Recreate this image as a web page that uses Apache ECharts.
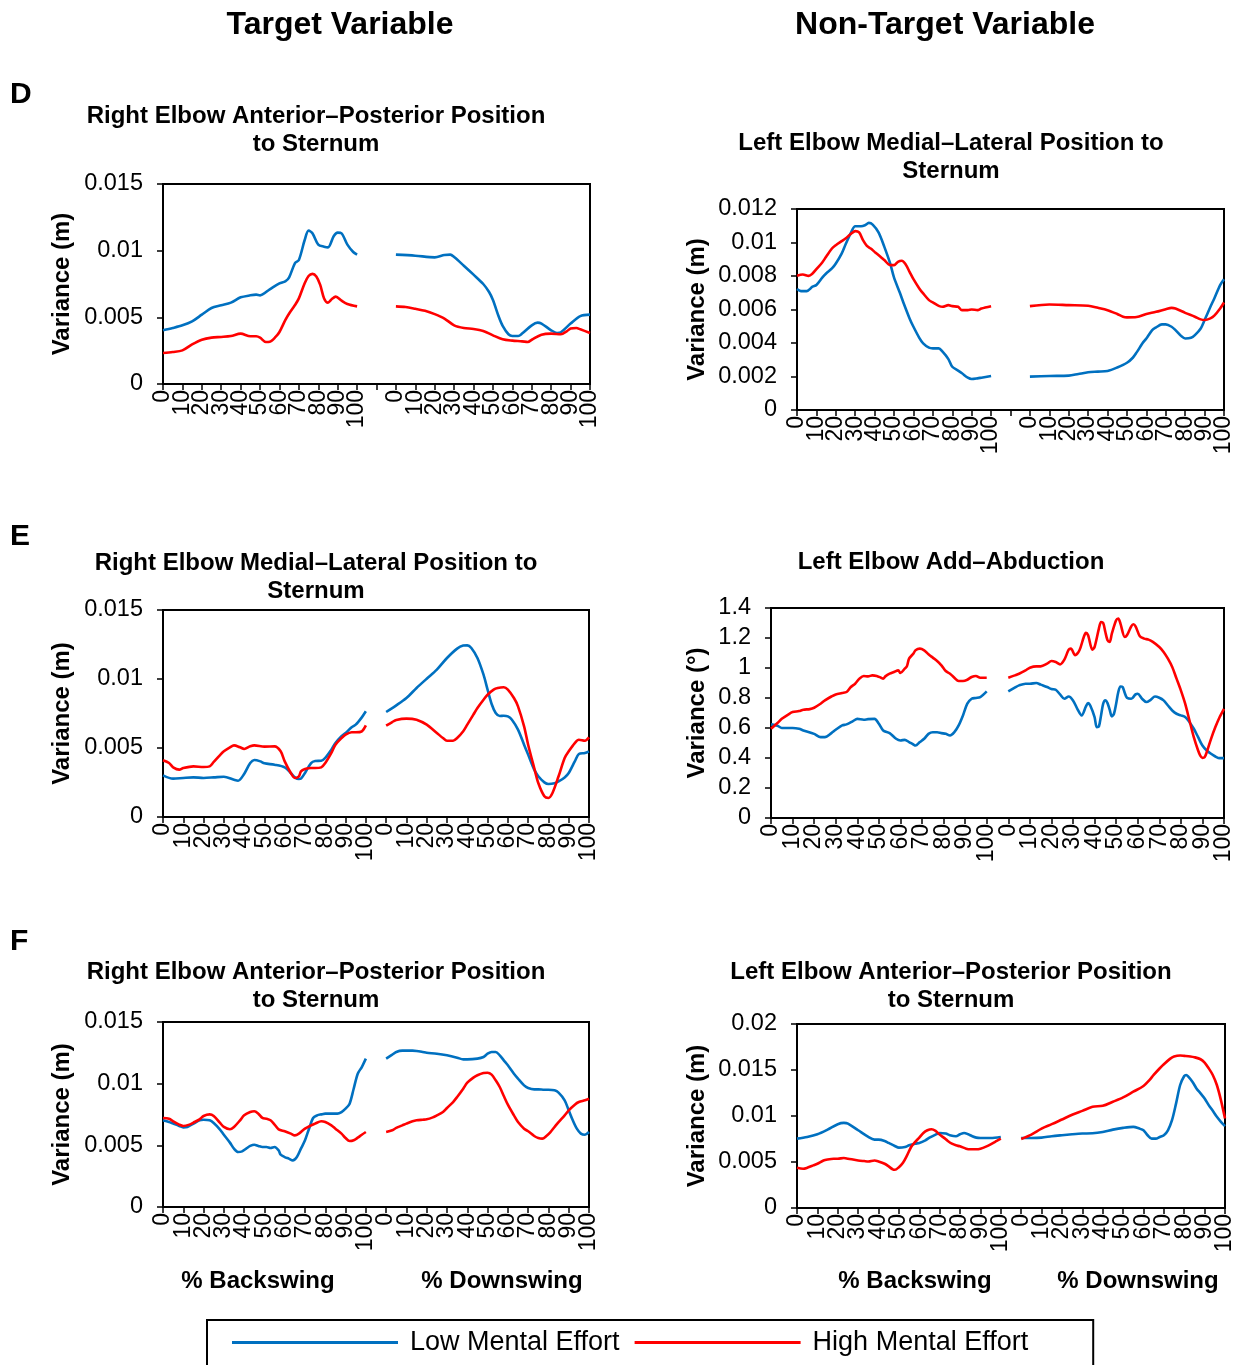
<!DOCTYPE html>
<html><head><meta charset="utf-8">
<script src="https://cdn.jsdelivr.net/npm/echarts@6/dist/echarts.min.js"></script>
<style>html,body{margin:0;padding:0;background:#fff}#c{width:1241px;height:1365px}</style>
</head><body><div id="c"></div>
<script>
// ---------- DATA: [% of phase, variance] ----------
// Panel D, target: Right Elbow Anterior–Posterior Position to Sternum
const D_T_low_back = [[0,0.00403],[5,0.0042],[10,0.0044],[15,0.0047],[20,0.0052],[25,0.0057],[30,0.0059],[35,0.0061],[40,0.0065],[45,0.00665],[48,0.0067],[50,0.00665],[55,0.0071],[60,0.00755],[63,0.0077],[65,0.008],[68,0.00907],[70,0.0093],[73,0.0108],[75,0.0115],[77,0.0113],[80,0.01045],[83,0.0103],[85,0.01025],[88,0.0111],[90,0.01135],[92,0.0113],[95,0.01045],[98,0.0099],[100,0.0097]];
const D_T_low_down = [[0,0.0097],[10,0.00962],[20,0.0095],[25,0.00967],[28,0.0097],[30,0.00952],[35,0.00887],[40,0.0082],[45,0.0075],[48,0.0069],[50,0.0063],[53,0.00504],[55,0.00436],[58,0.00373],[60,0.0036],[63,0.0036],[65,0.00378],[70,0.0044],[73,0.0046],[75,0.00453],[80,0.00403],[83,0.00383],[85,0.00388],[90,0.00453],[95,0.00509],[100,0.0052]];
const D_T_high_back = [[0,0.00232],[5,0.0024],[10,0.00252],[15,0.00297],[20,0.00332],[25,0.00348],[30,0.00353],[35,0.0036],[40,0.00378],[45,0.00358],[48,0.00358],[50,0.00348],[53,0.00315],[55,0.00317],[58,0.00353],[60,0.0039],[63,0.00479],[65,0.00529],[68,0.00592],[70,0.00642],[73,0.00756],[75,0.0081],[77,0.00826],[79,0.00806],[81,0.00743],[83,0.00642],[85,0.0061],[87,0.00637],[89,0.00655],[92,0.00625],[95,0.006],[100,0.00582]];
const D_T_high_down = [[0,0.00582],[5,0.00577],[10,0.00564],[15,0.00549],[20,0.00524],[25,0.00491],[30,0.0044],[35,0.0042],[40,0.00413],[45,0.00398],[50,0.00365],[55,0.00335],[60,0.00325],[65,0.0032],[68,0.00315],[70,0.00332],[75,0.0037],[80,0.00378],[85,0.00373],[88,0.00395],[90,0.00416],[93,0.0042],[95,0.0041],[100,0.00383]];
// Panel D, non-target: Left Elbow Medial–Lateral Position to Sternum
const D_N_low_back = [[0,0.00722],[2,0.0071],[5,0.0071],[8,0.00736],[10,0.00746],[13,0.0079],[15,0.00815],[18,0.00845],[20,0.00875],[23,0.00934],[25,0.00988],[28,0.01064],[30,0.01097],[33,0.01097],[35,0.01103],[37,0.01117],[39,0.01107],[42,0.0106],[45,0.00974],[48,0.00875],[50,0.0079],[53,0.007],[55,0.00636],[58,0.00547],[60,0.00497],[63,0.00431],[65,0.00398],[68,0.00372],[70,0.00368],[73,0.00368],[75,0.00348],[78,0.00304],[80,0.00258],[83,0.00235],[85,0.00219],[88,0.00193],[90,0.00185],[93,0.00189],[95,0.00193],[100,0.00203]];
const D_N_low_down = [[0,0.00199],[10,0.00203],[20,0.00205],[25,0.00215],[30,0.00225],[35,0.00229],[40,0.00233],[45,0.00254],[50,0.00282],[53,0.00312],[55,0.00344],[58,0.00398],[60,0.00427],[63,0.00477],[65,0.00493],[68,0.00511],[70,0.00511],[73,0.00497],[75,0.00477],[78,0.00441],[80,0.00427],[83,0.00431],[85,0.00447],[88,0.00487],[90,0.00537],[93,0.00616],[95,0.00666],[98,0.00746],[100,0.00781]];
const D_N_high_back = [[0,0.00801],[3,0.00809],[6,0.00801],[8,0.00815],[10,0.00841],[13,0.00881],[15,0.00915],[18,0.00964],[20,0.00984],[23,0.01008],[25,0.01024],[28,0.01054],[30,0.01068],[32,0.0106],[34,0.01014],[36,0.0098],[38,0.00964],[40,0.00944],[43,0.00915],[45,0.00895],[48,0.00865],[50,0.00865],[52,0.00885],[54,0.00891],[56,0.00869],[58,0.00825],[60,0.00781],[63,0.00726],[65,0.00696],[68,0.00656],[70,0.00642],[73,0.00622],[75,0.00616],[78,0.00626],[80,0.0062],[83,0.00616],[85,0.00596],[88,0.00596],[90,0.006],[93,0.00596],[95,0.00606],[100,0.0062]];
const D_N_high_down = [[0,0.0062],[10,0.0063],[20,0.00626],[30,0.00622],[35,0.0061],[40,0.00596],[45,0.00573],[48,0.00557],[50,0.00553],[55,0.00555],[60,0.00573],[65,0.00586],[70,0.00602],[73,0.0061],[75,0.00606],[80,0.0058],[85,0.00557],[88,0.00541],[90,0.00537],[93,0.00547],[95,0.00563],[98,0.00606],[100,0.00642]];
// Panel E, target: Right Elbow Medial–Lateral Position to Sternum
const E_T_low_back = [[0,0.00302],[5,0.00278],[10,0.00283],[15,0.00287],[20,0.00283],[25,0.00287],[30,0.00292],[35,0.0027],[37,0.00263],[40,0.00312],[43,0.00391],[45,0.00413],[48,0.00403],[50,0.00389],[55,0.00379],[60,0.0036],[63,0.00319],[65,0.00287],[67,0.00275],[68,0.00278],[70,0.00319],[73,0.00391],[75,0.00406],[78,0.00408],[80,0.00428],[83,0.00488],[85,0.00536],[88,0.00585],[90,0.00609],[93,0.0065],[95,0.00669],[98,0.00722],[100,0.00766]];
const E_T_low_down = [[0,0.00761],[5,0.00809],[10,0.00862],[15,0.00935],[20,0.01002],[25,0.01068],[30,0.01152],[35,0.0122],[38,0.01242],[40,0.01244],[42,0.01225],[45,0.01152],[48,0.01031],[50,0.00923],[52,0.00819],[54,0.00754],[56,0.00732],[58,0.00734],[60,0.00729],[62,0.00705],[65,0.00633],[68,0.00524],[70,0.00452],[73,0.00343],[75,0.00295],[78,0.00251],[80,0.00239],[83,0.00244],[85,0.00258],[88,0.00287],[90,0.00319],[93,0.00403],[95,0.00457],[98,0.00464],[100,0.00476]];
const E_T_high_back = [[0,0.00411],[3,0.00391],[5,0.0036],[8,0.00343],[10,0.00355],[15,0.00367],[20,0.00362],[23,0.00367],[25,0.00399],[28,0.00447],[30,0.00476],[33,0.00505],[35,0.00519],[38,0.00505],[40,0.00493],[43,0.00512],[45,0.00519],[50,0.0051],[55,0.00512],[58,0.00476],[60,0.00403],[63,0.00319],[65,0.00283],[67,0.00295],[68,0.00331],[70,0.00348],[73,0.00355],[75,0.00355],[78,0.0036],[80,0.00391],[83,0.00464],[85,0.00524],[88,0.00572],[90,0.00597],[93,0.00614],[95,0.00614],[98,0.00621],[100,0.00664]];
const E_T_high_down = [[0,0.00662],[3,0.00688],[5,0.00703],[10,0.00713],[15,0.00705],[20,0.00669],[25,0.00609],[28,0.00572],[30,0.00553],[33,0.00553],[35,0.00572],[38,0.00621],[40,0.00669],[43,0.00742],[45,0.0079],[48,0.0085],[50,0.00886],[53,0.00923],[55,0.00935],[58,0.0094],[60,0.00923],[63,0.00862],[65,0.00802],[68,0.00657],[70,0.00524],[73,0.00355],[75,0.00246],[78,0.0015],[80,0.00138],[82,0.00174],[85,0.00295],[88,0.00428],[90,0.00476],[93,0.00536],[95,0.0056],[98,0.00553],[100,0.00577]];
// Panel E, non-target: Left Elbow Add–Abduction
const E_N_low_back = [[0,0.624],[3,0.615],[5,0.6],[10,0.6],[13,0.595],[15,0.584],[20,0.561],[23,0.539],[25,0.539],[28,0.566],[30,0.588],[33,0.617],[35,0.624],[38,0.646],[40,0.661],[43,0.655],[45,0.659],[48,0.661],[50,0.628],[52,0.584],[55,0.566],[58,0.528],[60,0.517],[62,0.521],[64,0.506],[66,0.49],[67,0.483],[69,0.506],[71,0.528],[73,0.561],[75,0.572],[77,0.572],[79,0.566],[81,0.561],[83,0.55],[85,0.572],[87,0.617],[89,0.684],[91,0.762],[93,0.795],[95,0.8],[97,0.806],[100,0.844]];
const E_N_low_down = [[0,0.844],[3,0.869],[5,0.884],[8,0.895],[10,0.895],[13,0.9],[15,0.889],[18,0.873],[20,0.86],[22,0.855],[24,0.824],[26,0.795],[28,0.81],[30,0.784],[32,0.728],[34,0.684],[36,0.744],[37,0.766],[38,0.75],[40,0.673],[41,0.606],[42,0.61],[43,0.684],[44,0.762],[45,0.784],[46,0.766],[47,0.722],[48,0.677],[49,0.695],[50,0.762],[51,0.84],[52,0.877],[53,0.873],[54,0.833],[55,0.802],[57,0.795],[59,0.824],[60,0.828],[62,0.795],[64,0.773],[66,0.788],[68,0.81],[70,0.802],[72,0.784],[74,0.75],[76,0.717],[78,0.695],[80,0.684],[82,0.673],[84,0.639],[86,0.595],[88,0.539],[90,0.483],[92,0.45],[94,0.428],[96,0.41],[98,0.399],[100,0.399]];
const E_N_high_back = [[0,0.595],[3,0.633],[5,0.661],[8,0.69],[10,0.706],[13,0.713],[15,0.722],[18,0.726],[20,0.735],[23,0.762],[25,0.784],[28,0.81],[30,0.824],[33,0.833],[35,0.84],[37,0.873],[39,0.895],[41,0.929],[43,0.947],[45,0.944],[47,0.951],[49,0.947],[51,0.935],[52,0.929],[53,0.944],[55,0.962],[57,0.973],[59,0.984],[60,0.967],[62,0.996],[63,1.011],[64,1.062],[66,1.096],[67,1.118],[69,1.129],[71,1.118],[73,1.091],[75,1.069],[77,1.047],[79,1.018],[81,0.98],[83,0.962],[85,0.935],[87,0.913],[89,0.913],[91,0.922],[93,0.94],[95,0.947],[97,0.935],[100,0.935]];
const E_N_high_down = [[0,0.935],[3,0.951],[5,0.962],[8,0.984],[10,1.002],[13,1.011],[15,1.011],[18,1.029],[20,1.047],[22,1.04],[24,1.024],[26,1.056],[28,1.122],[29,1.129],[31,1.085],[33,1.118],[35,1.207],[36,1.234],[37,1.218],[39,1.122],[40,1.14],[42,1.263],[43,1.307],[44,1.3],[45,1.24],[46,1.185],[47,1.174],[48,1.229],[50,1.318],[51,1.33],[52,1.296],[54,1.207],[55,1.218],[57,1.278],[58,1.292],[59,1.278],[61,1.211],[63,1.196],[65,1.189],[67,1.174],[70,1.14],[72,1.107],[74,1.062],[76,1.007],[78,0.929],[80,0.851],[82,0.762],[84,0.65],[86,0.539],[88,0.45],[89,0.416],[90,0.401],[91,0.405],[92,0.439],[94,0.528],[96,0.606],[98,0.673],[100,0.728]];
// Panel F, target: Right Elbow Anterior–Posterior Position to Sternum
const F_T_low_back = [[0,0.00703],[3,0.00689],[5,0.00676],[8,0.00657],[10,0.00646],[12,0.00649],[15,0.00676],[18,0.00703],[20,0.00708],[23,0.00703],[25,0.00681],[28,0.0063],[30,0.00586],[33,0.00522],[35,0.00473],[37,0.00446],[39,0.00451],[41,0.00473],[43,0.00495],[45,0.00505],[47,0.00495],[49,0.00486],[51,0.00486],[53,0.00478],[55,0.00486],[57,0.00459],[58,0.00424],[60,0.00405],[62,0.00392],[64,0.00378],[66,0.00405],[68,0.00473],[70,0.00541],[72,0.00635],[74,0.00722],[76,0.00743],[78,0.00751],[80,0.00757],[83,0.00757],[86,0.00757],[88,0.0077],[90,0.00797],[92,0.00838],[94,0.00959],[96,0.01081],[98,0.01135],[100,0.01203]];
const F_T_low_down = [[0,0.01203],[3,0.01235],[5,0.01257],[8,0.01268],[10,0.01268],[13,0.01268],[15,0.01265],[18,0.01257],[20,0.01251],[25,0.01243],[30,0.0123],[35,0.01211],[38,0.01197],[40,0.01197],[45,0.01203],[48,0.01216],[50,0.01243],[52,0.01257],[54,0.01257],[56,0.0123],[58,0.01189],[60,0.01149],[63,0.01081],[65,0.01041],[68,0.00986],[70,0.00965],[73,0.00954],[75,0.00954],[78,0.00951],[80,0.00951],[83,0.00946],[85,0.00927],[88,0.00865],[90,0.00784],[92,0.00703],[94,0.00635],[96,0.00595],[98,0.00586],[100,0.00608]];
const F_T_high_back = [[0,0.00722],[3,0.00716],[5,0.00695],[8,0.00668],[10,0.00657],[13,0.00668],[15,0.00684],[18,0.00711],[20,0.00738],[23,0.00751],[25,0.00738],[28,0.00684],[30,0.00649],[33,0.0063],[35,0.00649],[38,0.00703],[40,0.00743],[43,0.0077],[45,0.00776],[47,0.00757],[49,0.00722],[51,0.00716],[53,0.00703],[55,0.00668],[57,0.0063],[60,0.00614],[63,0.00595],[65,0.00581],[67,0.00595],[70,0.00635],[73,0.00662],[75,0.00676],[78,0.00695],[80,0.00689],[83,0.00662],[85,0.00635],[88,0.00595],[90,0.00559],[92,0.00535],[94,0.00541],[96,0.00562],[98,0.00586],[100,0.00608]];
const F_T_high_down = [[0,0.00608],[3,0.00622],[5,0.00641],[8,0.00662],[10,0.00676],[13,0.00695],[15,0.00703],[18,0.00708],[20,0.00711],[23,0.00727],[25,0.00743],[28,0.0077],[30,0.00803],[33,0.00851],[35,0.00892],[38,0.00959],[40,0.01008],[43,0.01049],[45,0.01068],[48,0.01086],[50,0.01089],[52,0.01073],[54,0.01027],[56,0.00973],[58,0.009],[60,0.0083],[63,0.00743],[65,0.00689],[68,0.00635],[70,0.00614],[73,0.00576],[75,0.00559],[77,0.00554],[79,0.00576],[81,0.00608],[83,0.00649],[85,0.00689],[88,0.00743],[90,0.00784],[93,0.0083],[95,0.00851],[98,0.00865],[100,0.00878]];
// Panel F, non-target: Left Elbow Anterior–Posterior Position to Sternum
const F_N_low_back = [[0,0.00754],[5,0.00772],[10,0.00801],[15,0.00852],[20,0.00911],[23,0.00925],[25,0.00918],[30,0.00845],[35,0.00772],[38,0.00743],[40,0.00743],[43,0.00729],[45,0.00707],[48,0.00674],[50,0.00656],[53,0.00663],[55,0.00681],[58,0.00699],[60,0.00707],[63,0.00736],[65,0.00765],[68,0.00798],[70,0.00816],[73,0.00809],[75,0.00791],[78,0.0078],[80,0.00801],[82,0.00816],[84,0.00801],[86,0.0078],[88,0.00765],[90,0.00761],[95,0.00761],[100,0.00772]];
const F_N_low_down = [[0,0.00761],[5,0.00761],[10,0.00765],[15,0.0078],[20,0.00791],[25,0.00801],[30,0.00809],[35,0.00812],[40,0.00827],[45,0.00852],[50,0.00871],[55,0.00882],[58,0.00863],[60,0.00845],[62,0.00791],[64,0.00754],[66,0.00754],[68,0.00772],[70,0.00791],[72,0.00845],[74,0.00954],[76,0.01137],[78,0.01337],[80,0.01435],[81,0.01446],[82,0.01428],[84,0.01373],[86,0.013],[88,0.01246],[90,0.01191],[92,0.01118],[94,0.01056],[96,0.00991],[98,0.00936],[100,0.00889]];
const F_N_high_back = [[0,0.00437],[3,0.00426],[5,0.00437],[8,0.00463],[10,0.00481],[13,0.00517],[15,0.00528],[18,0.00536],[20,0.00536],[23,0.00543],[25,0.00536],[30,0.00517],[33,0.0051],[35,0.00506],[38,0.00517],[40,0.00506],[43,0.00481],[45,0.00452],[47,0.00419],[48,0.00415],[50,0.00444],[52,0.00492],[54,0.00572],[56,0.00663],[58,0.00718],[60,0.00765],[62,0.00816],[64,0.00845],[66,0.00856],[68,0.00838],[70,0.00798],[72,0.00765],[74,0.00729],[76,0.00699],[78,0.00681],[80,0.0067],[83,0.00645],[85,0.00638],[88,0.00638],[90,0.00645],[93,0.0067],[95,0.00692],[98,0.00729],[100,0.00754]];
const F_N_high_down = [[0,0.0075],[5,0.00798],[10,0.00863],[15,0.00911],[20,0.00962],[25,0.01013],[30,0.01056],[35,0.011],[40,0.01111],[45,0.01155],[50,0.01202],[55,0.01264],[60,0.01326],[63,0.01392],[65,0.01446],[68,0.01519],[70,0.01563],[73,0.01621],[75,0.01647],[78,0.01658],[80,0.01654],[83,0.01647],[85,0.01639],[88,0.01617],[90,0.01581],[92,0.01519],[94,0.01446],[96,0.01337],[98,0.01173],[100,0.00973]];

const SERIES_NAMES = ['Low Mental Effort', 'High Mental Effort'];
const TITLES = [
  'Right Elbow Anterior\u2013Posterior Position\nto Sternum',
  'Left Elbow Medial\u2013Lateral Position to\nSternum',
  'Right Elbow Medial\u2013Lateral Position to\nSternum',
  'Left Elbow Add\u2013Abduction',
  'Right Elbow Anterior\u2013Posterior Position\nto Sternum',
  'Left Elbow Anterior\u2013Posterior Position\nto Sternum'
];
const Y_NAMES = ['Variance (m)','Variance (m)','Variance (m)','Variance (\u00b0)','Variance (m)','Variance (m)'];
const Y_MAX = [0.015, 0.012, 0.015, 1.4, 0.015, 0.02];
const Y_STEP = [0.005, 0.002, 0.005, 0.2, 0.005, 0.005];
const PHASE_SPAN = [220, 220, 210, 210, 210, 210]; // backswing + gap + downswing on the shared axis
const DATA = [
  [D_T_low_back, D_T_low_down, D_T_high_back, D_T_high_down],
  [D_N_low_back, D_N_low_down, D_N_high_back, D_N_high_down],
  [E_T_low_back, E_T_low_down, E_T_high_back, E_T_high_down],
  [E_N_low_back, E_N_low_down, E_N_high_back, E_N_high_down],
  [F_T_low_back, F_T_low_down, F_T_high_back, F_T_high_down],
  [F_N_low_back, F_N_low_down, F_N_high_back, F_N_high_down]
];

// ---------- LAYOUT ----------
const FONT = '"Liberation Sans", Arial, sans-serif';
const GRIDS = [
  {left:163, top:184, width:427, height:200},
  {left:797, top:209, width:427, height:201},
  {left:163, top:610, width:426, height:207},
  {left:771, top:608, width:453, height:210},
  {left:163, top:1022, width:426, height:185},
  {left:797, top:1024, width:428, height:184}
];
const NAME_GAP = [89, 88, 89, 62, 89, 88];
const TITLE_POS = [[316,102],[951,129],[316,549],[951,548],[316,958],[951,958]];
const BLUE = '#0070C0', RED = '#FF0000';

const chart = echarts.init(document.getElementById('c'), null, {renderer:'canvas'});
const grid = [], xAxis = [], yAxis = [], series = [], title = [];
const tickStyle = {color:'#000', width:1.5};
const labelBase = {rotate:90, margin:6, fontSize:23, color:'#000', fontFamily:FONT, hideOverlap:false};
GRIDS.forEach((g, i) => {
  const span = PHASE_SPAN[i];
  grid.push(Object.assign({show:true, borderColor:'#000', borderWidth:2, containLabel:false}, g));
  // A: backswing axis (0..100 on the left part) — inner labels 10..100 and all inner ticks
  xAxis.push({gridIndex:i, type:'value', position:'bottom', min:0, max:span, interval:10,
    axisLine:{show:true, onZero:false, lineStyle:{color:'#000', width:2}},
    axisTick:{show:true, length:6, lineStyle:tickStyle},
    axisLabel:Object.assign({}, labelBase, {showMinLabel:false, showMaxLabel:false,
      formatter: v => (v > 0 && v <= 100) ? String(v) : ''}),
    splitLine:{show:false}});
  // B: downswing axis (0..100 on the right part) — labels 0..90
  xAxis.push({gridIndex:i, type:'value', position:'bottom', min:100 - span, max:100, interval:10,
    axisLine:{show:false, onZero:false}, axisTick:{show:false},
    axisLabel:Object.assign({}, labelBase, {showMinLabel:false, showMaxLabel:false,
      formatter: v => (v >= 0 && v < 100) ? String(v) : ''}),
    splitLine:{show:false}});
  // C: the two end labels (backswing 0, downswing 100) and end ticks
  xAxis.push({gridIndex:i, type:'value', position:'bottom', min:0, max:span, interval:span,
    axisLine:{show:false, onZero:false},
    axisTick:{show:true, length:6, lineStyle:tickStyle},
    axisLabel:Object.assign({}, labelBase, {showMinLabel:true, showMaxLabel:true,
      formatter: v => v === 0 ? '0' : '100'}),
    splitLine:{show:false}});
  yAxis.push({gridIndex:i, type:'value', min:0, max:Y_MAX[i], interval:Y_STEP[i],
    name:Y_NAMES[i], nameLocation:'middle', nameRotate:90, nameGap:NAME_GAP[i],
    nameTextStyle:{fontSize:24, fontWeight:'bold', color:'#000', fontFamily:FONT},
    axisLine:{show:true, lineStyle:{color:'#000', width:2}},
    axisTick:{show:true, length:6, lineStyle:tickStyle},
    axisLabel:{fontSize:23.5, color:'#000', margin:20, fontFamily:FONT, showMinLabel:true, showMaxLabel:true},
    splitLine:{show:false}});
  const d = DATA[i];
  [[0, BLUE, d[0], d[1]], [1, RED, d[2], d[3]]].forEach(([k, col, back, down]) => {
    const common = {type:'line', name:SERIES_NAMES[k], yAxisIndex:i, showSymbol:false,
      smooth:0.3, lineStyle:{color:col, width:2.6}, itemStyle:{color:col}, silent:true, animation:false, z:2+k};
    series.push(Object.assign({}, common, {xAxisIndex:3*i, data:back}));
    series.push(Object.assign({}, common, {xAxisIndex:3*i+1, data:down}));
  });
  title.push({text:TITLES[i], left:TITLE_POS[i][0], top:TITLE_POS[i][1], textAlign:'center', padding:0,
    textStyle:{fontSize:24, fontWeight:'bold', color:'#000', lineHeight:28, fontFamily:FONT}});
});

const txt = (text, x, y, font, align) => ({type:'text', x, y, silent:true,
  style:{text, font, fill:'#000', textAlign:align || 'center', textVerticalAlign:'middle'}});
const graphic = [
  txt('Target Variable', 340, 25, 'bold 32px ' + FONT),
  txt('Non-Target Variable', 945, 25, 'bold 32px ' + FONT),
  txt('D', 10, 95, 'bold 30px ' + FONT, 'left'),
  txt('E', 10, 537, 'bold 30px ' + FONT, 'left'),
  txt('F', 10, 942, 'bold 30px ' + FONT, 'left'),
  txt('% Backswing', 258, 1281, 'bold 24px ' + FONT),
  txt('% Downswing', 502, 1281, 'bold 24px ' + FONT),
  txt('% Backswing', 915, 1281, 'bold 24px ' + FONT),
  txt('% Downswing', 1138, 1281, 'bold 24px ' + FONT)
];

chart.setOption({
  animation:false,
  backgroundColor:'#fff',
  title, grid, xAxis, yAxis, series, graphic,
  legend:{data:SERIES_NAMES, left:207, top:1320, orient:'horizontal',
    icon:'rect', itemWidth:166, itemHeight:3, itemGap:15,
    borderColor:'#000', borderWidth:2, padding:[9, 65, 30, 25],
    textStyle:{fontSize:27, color:'#000', fontFamily:FONT, padding:[0,0,0,7]},
    selectedMode:false}
});
</script></body></html>
